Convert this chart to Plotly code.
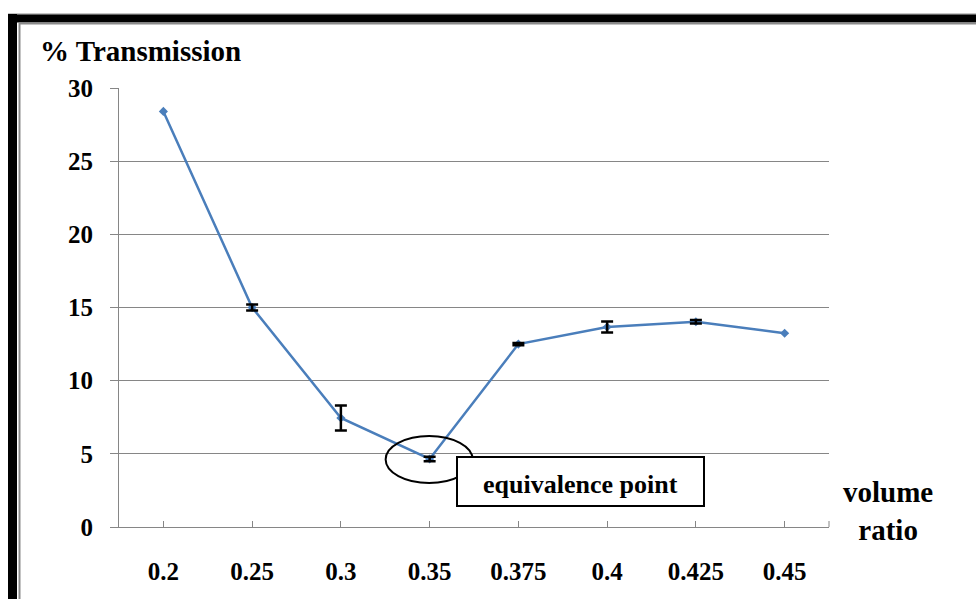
import plotly.graph_objects as go

# Titration data: volume ratio vs. % transmission
ratios = ["0.2", "0.25", "0.3", "0.35", "0.375", "0.4", "0.425", "0.45"]
transmission = [28.4, 15.0, 7.45, 4.65, 12.5, 13.67, 14.03, 13.24]
# standard deviation per point (None where no error bar is drawn)
errors = [None, 0.2, 0.85, 0.15, 0.08, 0.38, 0.12, None]
y_ticks = [0, 5, 10, 15, 20, 25, 30]

W, H = 976, 599
L, R, T, B = 119, 147, 88, 72
PW, PH = W - L - R, H - T - B

FONT = "Liberation Serif, Times New Roman, serif"
BLUE = "#4A7EBB"
GRID = "#868686"


def px(x):
    return (x - L) / PW


def py(y):
    return (H - B - y) / PH


err_idx = [i for i, e in enumerate(errors) if e is not None]

fig = go.Figure()
fig.add_trace(go.Scatter(
    x=ratios,
    y=transmission,
    mode="lines+markers",
    line=dict(color=BLUE, width=2.5),
    marker=dict(symbol="diamond", size=7, color=BLUE),
    showlegend=False,
))
fig.add_trace(go.Scatter(
    x=[ratios[i] for i in err_idx],
    y=[transmission[i] for i in err_idx],
    mode="markers",
    marker=dict(size=1, opacity=0),
    error_y=dict(type="data", array=[errors[i] for i in err_idx], visible=True,
                 color="black", thickness=2.5, width=6),
    showlegend=False, hoverinfo="skip",
))

shapes = [
    # outer frame
    dict(type="line", xref="paper", yref="paper", x0=px(8), x1=px(W + 5),
         y0=py(14), y1=py(14), line=dict(color="#8a8a8a", width=1)),
    dict(type="line", xref="paper", yref="paper", x0=px(8), x1=px(W + 5),
         y0=py(18.5), y1=py(18.5), line=dict(color="black", width=8)),
    dict(type="line", xref="paper", yref="paper", x0=px(19), x1=px(W + 5),
         y0=py(23.5), y1=py(23.5), line=dict(color="#8a8a8a", width=2)),
    dict(type="line", xref="paper", yref="paper", x0=px(12.5), x1=px(12.5),
         y0=py(14), y1=py(H + 5), line=dict(color="black", width=9)),
    dict(type="line", xref="paper", yref="paper", x0=px(19.5), x1=px(19.5),
         y0=py(23), y1=py(H + 5), line=dict(color="#8a8a8a", width=2)),
    # closing tick at the right end of the category axis
    dict(type="line", xref="paper", yref="paper", x0=1, x1=1,
         y0=0, y1=py(H - B - 6), line=dict(color=GRID, width=1)),
    # ellipse round the equivalence point
    dict(type="circle", xref="x", yref="y", xsizemode="pixel", ysizemode="pixel",
         xanchor=3, yanchor=transmission[3], x0=-44, x1=43, y0=-24, y1=23,
         line=dict(color="black", width=2)),
    # label box
    dict(type="rect", xref="paper", yref="paper", x0=px(457), x1=px(704),
         y0=py(506), y1=py(457), line=dict(color="black", width=2),
         fillcolor="white", layer="above"),
]

annotations = [
    dict(text="<b>% Transmission</b>", xref="paper", yref="paper",
         x=px(38), y=py(51), xanchor="left", yanchor="middle", showarrow=False,
         font=dict(family=FONT, size=29, color="black")),
    dict(text="<b>volume<br>ratio</b>", xref="paper", yref="paper",
         x=px(888), y=py(511), xanchor="center", yanchor="middle", showarrow=False,
         font=dict(family=FONT, size=29, color="black")),
    dict(text="<b>equivalence point</b>", xref="paper", yref="paper",
         x=px(580.5), y=py(484), xanchor="center", yanchor="middle", showarrow=False,
         font=dict(family=FONT, size=26, color="black")),
]

fig.update_layout(
    width=W, height=H,
    margin=dict(l=L, r=R, t=T, b=B),
    paper_bgcolor="white", plot_bgcolor="white",
    font=dict(family=FONT),
    shapes=shapes, annotations=annotations,
    xaxis=dict(
        type="category", categoryorder="array", categoryarray=ratios,
        range=[-0.5, len(ratios) - 0.5],
        showgrid=False, zeroline=False,
        showline=True, linecolor=GRID, linewidth=1,
        ticks="inside", ticklen=6, tickcolor=GRID, tickwidth=1,
        ticklabelstandoff=22,
        tickfont=dict(family=FONT, size=25, color="black", weight="bold"),
    ),
    yaxis=dict(
        range=[0, 30], tickvals=y_ticks, ticktext=[str(v) for v in y_ticks],
        showgrid=True, gridcolor=GRID, gridwidth=1, zeroline=False,
        showline=True, linecolor=GRID, linewidth=1,
        ticks="outside", ticklen=8, tickcolor=GRID, tickwidth=1,
        ticklabelstandoff=12,
        tickfont=dict(family=FONT, size=25, color="black", weight="bold"),
    ),
)

fig.write_html("out.html")
